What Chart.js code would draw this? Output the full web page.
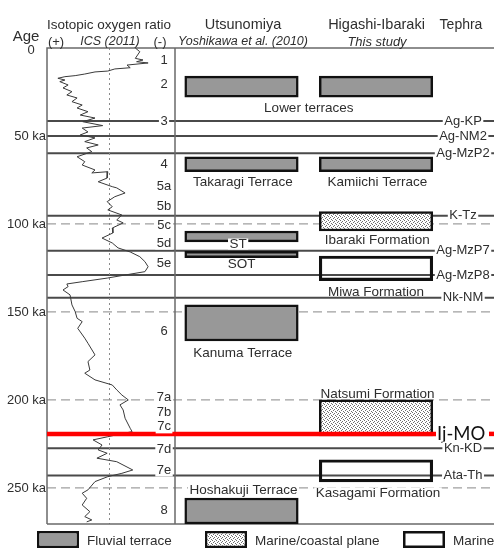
<!DOCTYPE html>
<html>
<head>
<meta charset="utf-8">
<script src="https://cdn.jsdelivr.net/npm/chart.js@4"></script>
<style>
html,body{margin:0;padding:0;background:#fff;}
</style>
</head>
<body>
<canvas id="myChart" width="494" height="549"></canvas>
<script>
// age axis (ka)
const ageTicks = [50, 100, 150, 200, 250];

// oxygen isotope curve (ICS 2011), age in ka and ratio
const isoAge = [0, 2.1, 5.9, 6.8, 7.8, 8.5, 9.7, 11.2, 11.9, 13.1,
  13.6, 14.8, 15.7, 16.3, 17.2, 18.2, 19.1, 21.0, 22.7, 24.8,
  26.7, 28.4, 30.5, 32.4, 34.1, 36.2, 38.1, 39.8, 41.9, 44.1,
  45.5, 47.7, 49.4, 51.1, 53.2, 55.1, 56.8, 58.9, 61.8, 64.6,
  66.5, 69.3, 71.0, 70.3, 73.9, 76.0, 78.8, 79.5, 82.4, 84.5,
  87.3, 90.2, 92.0, 94.9, 97.7, 99.4, 102.3, 105.1, 108.0, 110.8,
  113.6, 115.9, 118.6, 121.4, 124.3, 127.1, 129.0, 130.7, 132.8, 134.1,
  135.6, 137.5, 140.3, 146.0, 149.8, 153.6, 155.5, 159.3, 164.9, 167.8,
  174.4, 178.2, 183.0, 184.8, 188.6, 191.5, 194.3, 197.2, 200.0, 202.8,
  205.7, 210.4, 216.1, 218.0, 220.9, 222.7, 225.6, 228.4, 230.3, 233.1,
  235.1, 239.8, 241.7, 243.6, 246.4, 251.1, 253.0, 255.9, 259.7, 263.5,
  266.3, 268.2, 269.3];
const isoValue = [3.62, 3.55, 3.62, 3.50, 3.60, 3.42, 3.75, 3.70, 3.94, 4.05,
  4.25, 4.41, 4.56, 4.72, 4.83, 4.72, 4.80, 4.67, 4.75, 4.61,
  4.69, 4.53, 4.61, 4.45, 4.53, 4.36, 4.48, 4.25, 4.44, 4.13,
  4.45, 4.36, 4.48, 4.25, 4.41, 4.20, 4.38, 4.30, 4.53, 4.41,
  4.45, 4.25, 4.30, 4.05, 4.06, 4.20, 3.98, 3.91, 3.78, 3.94,
  4.06, 3.98, 4.05, 3.83, 3.91, 3.81, 3.98, 3.97, 4.14, 3.98,
  3.89, 3.70, 3.55, 3.47, 3.42, 3.47, 3.78, 4.05, 4.45, 4.69,
  4.67, 4.75, 4.64, 4.61, 4.56, 4.53, 4.45, 4.52, 4.41, 4.36,
  4.25, 4.36, 4.33, 4.41, 4.25, 3.98, 3.91, 3.83, 3.73, 3.86,
  3.81, 3.78, 3.70, 3.67, 4.05, 4.28, 4.14, 4.20, 4.06, 4.22,
  3.91, 3.66, 3.83, 4.05, 4.25, 4.36, 4.45, 4.38, 4.45, 4.33,
  4.41, 4.30, 4.38];
const isoRef = 4.03;

// marine isotope stages
const stageNames = ['1','2','3','4','5a','5b','5c','5d','5e','6','7a','7b','7c','7d','7e','8'];
const stageAges = [6.8, 20.5, 41.9, 65.9, 78.8, 90.3, 101.0, 110.8, 122.7, 160.8, 198.5, 207.2, 215.3, 228.4, 239.8, 262.5];

// tephra
const tephraNames = ['Ag-KP','Ag-NM2','Ag-MzP2','K-Tz','Ag-MzP7','Ag-MzP8','Nk-NM','Kn-KD','Ata-Th'];
const tephraAges = [41.5, 50, 59.8, 95.3, 115.2, 129.0, 141.9, 227.4, 243.0];
const keyTephraName = 'Ij-MO';
const keyTephraAge = 219.3;

// columns and units
const columns = ['Isotopic oxygen ratio', 'Utsunomiya', 'Higashi-Ibaraki', 'Tephra'];
const unitTypes = ['Fluvial terrace', 'Marine/coastal plane', 'Marine'];
const unitNames = ['Lower terraces','Takaragi Terrace','ST','SOT','Kanuma Terrace','Hoshakuji Terrace',
  'Lower terraces','Kamiichi Terrace','Ibaraki Formation','Miwa Formation','Natsumi Formation','Kasagami Formation'];
const unitColumn = ['Utsunomiya','Utsunomiya','Utsunomiya','Utsunomiya','Utsunomiya','Utsunomiya',
  'Higashi-Ibaraki','Higashi-Ibaraki','Higashi-Ibaraki','Higashi-Ibaraki','Higashi-Ibaraki','Higashi-Ibaraki'];
const unitTop = [16, 61.8, 104, 115.5, 146, 255.7, 16, 61.8, 93, 118.2, 200, 234];
const unitBase = [28, 70.3, 110.2, 119.2, 166.5, 270.5, 28, 70.3, 104, 132.2, 220.5, 246.6];
const unitType = ['Fluvial terrace','Fluvial terrace','Fluvial terrace','Fluvial terrace','Fluvial terrace','Fluvial terrace',
  'Fluvial terrace','Fluvial terrace','Marine/coastal plane','Marine','Marine/coastal plane','Marine'];

const FONT = '"Liberation Sans", Arial, sans-serif';
const INK = '#2e2e2e';

function makeStipple(){
  const c = document.createElement('canvas');
  c.width = 4; c.height = 4;
  const g = c.getContext('2d');
  g.fillStyle = '#fff'; g.fillRect(0, 0, 4, 4);
  g.fillStyle = '#6e6e6e';
  g.fillRect(0, 0, 1, 1); g.fillRect(2, 1, 1, 1); g.fillRect(1, 2, 1, 1); g.fillRect(3, 3, 1, 1);
  return g.createPattern(c, 'repeat');
}
const fills = { 'Fluvial terrace': '#989898', 'Marine/coastal plane': makeStipple(), 'Marine': 'rgba(255,255,255,0)' };

const barSets = unitTypes.map(t => ({
  type: 'bar',
  label: t,
  data: unitNames.map((n, i) => i).filter(i => unitType[i] === t)
    .map(i => ({ x: columns.indexOf(unitColumn[i]), y: [unitTop[i], unitBase[i]] })),
  xAxisID: 'col', yAxisID: 'y',
  backgroundColor: fills[t],
  borderColor: '#111',
  borderWidth: 2.5,
  borderSkipped: false,
  barThickness: 113.5,
  grouped: false
}));

function label(ctx, text, x, y, opt){
  ctx.save();
  ctx.font = opt.font || ('13px ' + FONT);
  ctx.textAlign = opt.align || 'center';
  ctx.textBaseline = 'middle';
  if (opt.bg) {
    const w = ctx.measureText(text).width;
    const x0 = opt.align === 'left' ? x : x - w / 2;
    ctx.fillStyle = '#fff';
    ctx.fillRect(x0 - 1.5, y - (opt.bgh || 13) / 2, w + 3, opt.bgh || 13);
  }
  ctx.fillStyle = opt.color || INK;
  ctx.fillText(text, x, y);
  ctx.restore();
}

function hline(ctx, x1, x2, y, color, width, dash){
  ctx.save();
  ctx.strokeStyle = color; ctx.lineWidth = width;
  ctx.setLineDash(dash || []);
  ctx.beginPath(); ctx.moveTo(x1, y); ctx.lineTo(x2, y); ctx.stroke();
  ctx.restore();
}

const framePlugin = {
  id: 'frame',
  beforeDatasetsDraw(chart){
    const ctx = chart.ctx, a = chart.chartArea, ys = chart.scales.y, iso = chart.scales.iso;
    ageTicks.forEach(v => hline(ctx, a.left, a.right, ys.getPixelForValue(v), '#a0a0a0', 1.3, [9, 5]));
    tephraAges.forEach(v => hline(ctx, a.left, a.right, ys.getPixelForValue(v), '#4a4a4a', 2));
    // dotted reference line
    ctx.save();
    ctx.strokeStyle = '#8a8a8a'; ctx.lineWidth = 1; ctx.setLineDash([2, 3]);
    const xr = Math.round(iso.getPixelForValue(isoRef)) + 0.5;
    ctx.beginPath(); ctx.moveTo(xr, a.top); ctx.lineTo(xr, a.bottom); ctx.stroke();
    ctx.restore();
    // panel frame
    ctx.save();
    ctx.strokeStyle = '#6a6a6a'; ctx.lineWidth = 1.5;
    const xs = iso.getPixelForValue(3.0);
    ctx.beginPath();
    ctx.moveTo(a.left, a.bottom); ctx.lineTo(a.left, a.top); ctx.lineTo(a.right, a.top);
    ctx.moveTo(xs, a.top); ctx.lineTo(xs, a.bottom);
    ctx.moveTo(a.left, a.bottom); ctx.lineTo(a.right, a.bottom);
    ctx.stroke();
    ctx.restore();
  },
  afterDatasetsDraw(chart){
    const ctx = chart.ctx, a = chart.chartArea, ys = chart.scales.y, col = chart.scales.col;
    // key tephra
    const yk = ys.getPixelForValue(keyTephraAge);
    hline(ctx, a.left, col.getPixelForValue(2) + 60, yk, '#ff0000', 4.5);
    hline(ctx, a.right - 5, a.right, yk, '#ff0000', 4.5);
    label(ctx, keyTephraName, col.getPixelForValue(2) + 61, yk, { align: 'left', font: '18.5px Lato, "Open Sans", sans-serif', color: '#111' });

    // stage numbers
    const xStage = col.getPixelForValue(0.424);
    stageNames.forEach((s, i) => label(ctx, s, xStage, ys.getPixelForValue(stageAges[i]), { bg: true }));

    // tephra names
    const xTeph = col.getPixelForValue(2.647);
    tephraNames.forEach((s, i) => label(ctx, s, xTeph, ys.getPixelForValue(tephraAges[i]), { bg: true }));

    // unit names
    const uf = '13.5px ' + FONT;
    const spots = [
      ['Lower terraces', 1.5, 34.1, false],
      ['Takaragi Terrace', 1.01, 76.1, false],
      ['Kamiichi Terrace', 2.01, 76.1, false],
      ['Ibaraki Formation', 2.01, 109.1, false],
      ['ST', 0.975, 111.4, true],
      ['SOT', 1.0, 122.7, true],
      ['Miwa Formation', 2.0, 138.6, false],
      ['Kanuma Terrace', 1.01, 173.3, false],
      ['Natsumi Formation', 2.012, 196.6, false],
      ['Hoshakuji Terrace', 1.015, 251.1, true],
      ['Kasagami Formation', 2.015, 252.8, true]
    ];
    spots.forEach(s => label(ctx, s[0], col.getPixelForValue(s[1]), ys.getPixelForValue(s[2]), { bg: s[3], bgh: 11, font: uf }));

    // headers
    label(ctx, 'Age', 26, 37, { font: '15px ' + FONT });
    label(ctx, '0', 31, 50, {});
    label(ctx, columns[0], 109, 25, { font: '13.5px ' + FONT });
    label(ctx, '(+)', 56, 42, {});
    label(ctx, 'ICS (2011)', 110, 42, { font: 'italic 12.5px ' + FONT });
    label(ctx, '(-)', 160, 42, {});
    label(ctx, columns[1], col.getPixelForValue(1) + 1.5, 25, { font: '14.5px ' + FONT });
    label(ctx, 'Yoshikawa et al. (2010)', col.getPixelForValue(1) + 1.5, 42, { font: 'italic 12.5px ' + FONT });
    label(ctx, columns[2], col.getPixelForValue(2) + 0.5, 25, { font: '14.5px ' + FONT });
    label(ctx, 'This study', col.getPixelForValue(2) + 1, 42, { font: 'italic 13px ' + FONT });
    label(ctx, columns[3], 461, 25, { font: '14px ' + FONT });

    // legend
    const legendX = [37, 205, 403];
    chart.data.datasets.filter(d => d.type === 'bar').forEach((d, i) => {
      const x = legendX[i];
      ctx.save();
      ctx.fillStyle = '#111';
      ctx.fillRect(x, 531, 42, 17);
      ctx.fillStyle = '#fff';
      ctx.fillRect(x + 2.5, 533.5, 37, 12);
      ctx.fillStyle = d.backgroundColor;
      ctx.fillRect(x + 2.5, 533.5, 37, 12);
      ctx.restore();
      label(ctx, d.label, x + 50, 541, { align: 'left', font: '13.5px ' + FONT });
    });
  }
};

const ctx = document.getElementById('myChart');
const myChart = new Chart(ctx, {
  type: 'bar',
  data: {
    datasets: [
      ...barSets,
      {
        type: 'line',
        label: 'Isotopic oxygen ratio',
        data: isoAge.map((a, i) => ({ x: isoValue[i], y: a })),
        xAxisID: 'iso', yAxisID: 'y',
        borderColor: '#3a3a3a',
        borderWidth: 1,
        pointRadius: 0,
        tension: 0,
        fill: false
      }
    ]
  },
  options: {
    responsive: false,
    animation: false,
    devicePixelRatio: 1,
    layout: { padding: { top: 48, bottom: 25, left: 0, right: 0 } },
    plugins: { legend: { display: false }, tooltip: { enabled: false } },
    scales: {
      col: {
        type: 'linear', axis: 'x', display: false, offset: false,
        min: -0.4461, max: 2.8773,
        afterBuildTicks: s => { s.ticks = [{ value: 1 }, { value: 2 }]; }
      },
      iso: {
        type: 'linear', axis: 'x', display: false, offset: false,
        min: -1.984375, max: 5.0, reverse: true
      },
      y: {
        type: 'linear', position: 'left', reverse: true, offset: false,
        min: 0, max: 270.5,
        grid: { display: false, drawTicks: false },
        border: { display: false },
        afterBuildTicks: s => { s.ticks = ageTicks.map(v => ({ value: v })); },
        afterFit: s => { s.width = 47; },
        ticks: {
          padding: 1,
          color: INK,
          font: { size: 13, family: FONT },
          callback: v => v + ' ka'
        }
      }
    }
  },
  plugins: [framePlugin]
});
</script>
</body>
</html>
